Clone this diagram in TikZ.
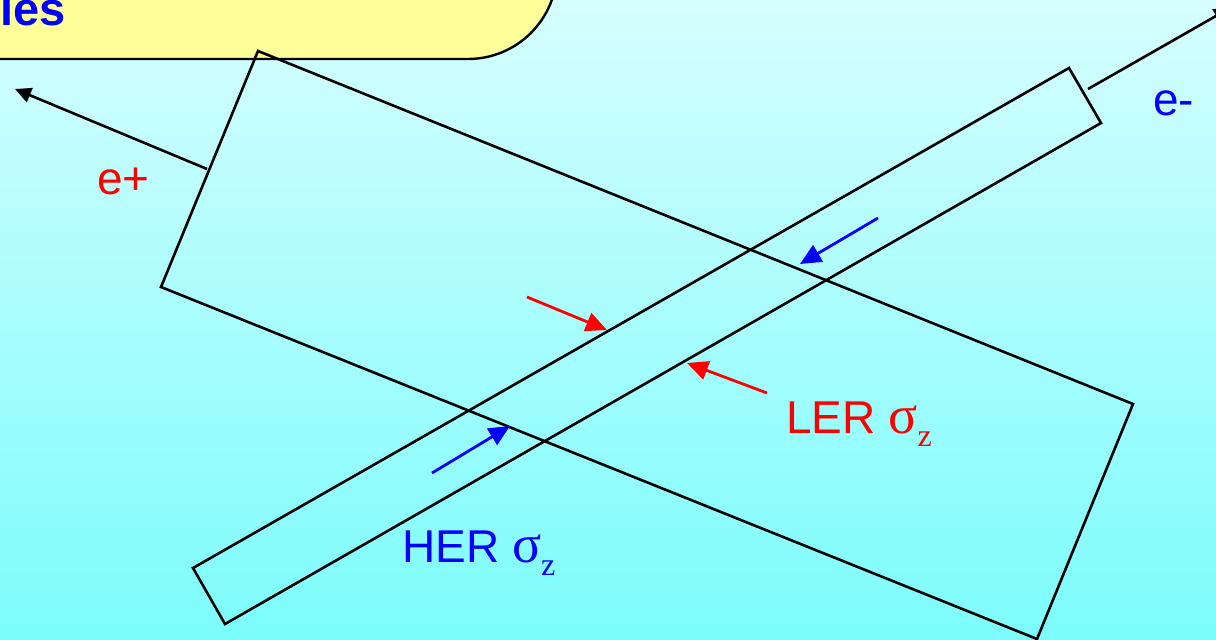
\documentclass[tikz,border=0pt]{standalone}
\usepackage{fontspec}
\setmainfont{Liberation Sans}
\newfontfamily\seriffont{Liberation Serif}
\usetikzlibrary{arrows.meta}
\definecolor{bgtop}{RGB}{214,254,254}
\definecolor{bgbot}{RGB}{124,252,252}
\definecolor{boxyellow}{RGB}{255,255,153}
\tikzset{
  beamline/.style={draw=black, line width=2.6pt, line join=miter},
  dirarrow/.style={draw=black, line width=2.6pt, -{Triangle[length=16pt,width=15pt]}},
  redarrow/.style={draw=red, line width=2.8pt, -{Triangle[length=21pt,width=19pt]}},
  bluearrow/.style={draw=blue, line width=2.8pt, -{Triangle[length=21pt,width=19pt]}},
  lbl/.style={inner sep=0pt, anchor=base west, font=\fontsize{46}{46}\selectfont},
}
\newcommand{\sigz}{{\fontsize{54}{54}\seriffont σ}\raisebox{-13pt}{\fontsize{32}{32}\seriffont z}}
\begin{document}
\begin{tikzpicture}[x=1pt,y=-1pt]
\useasboundingbox (0,0) rectangle (1216,640);
\clip (0,0) rectangle (1216,640);
\fill[top color=bgtop, bottom color=bgbot] (0,0) rectangle (1216,640);
% title box
\draw[fill=boxyellow, line width=2.4pt, rounded corners=89pt] (-150,-200) rectangle (557,59);
\node[inner sep=0pt, anchor=base east, text=blue, font=\fontsize{47}{47}\selectfont\bfseries] (title) at (66,25) {les};
% LER box (wide)
\coordinate (L1) at (258,51);
\coordinate (L2) at (1133,404);
\coordinate (L3) at (1037,639);
\coordinate (L4) at (161,287);
\draw[beamline] (L1) -- (L2) -- (L3) -- (L4) -- cycle;
% HER box (thin)
\coordinate (H1) at (193,568);
\coordinate (H2) at (1069,68);
\coordinate (H3) at (1101,123);
\coordinate (H4) at (225,624);
\draw[beamline] (H1) -- (H2) -- (H3) -- (H4) -- cycle;
% direction arrows
\coordinate (epstart) at (207,169);
\coordinate (eptip) at (15,89);
\draw[dirarrow] (epstart) -- (eptip);
\coordinate (emstart) at (1088,89);
\coordinate (emtip) at (1230,8);
\draw[dirarrow] (emstart) -- (emtip);
% red arrows
\coordinate (ra1s) at (527,297);
\coordinate (ra1e) at (607,330);
\coordinate (ra2s) at (767,393);
\coordinate (ra2e) at (687,363);
\draw[redarrow] (ra1s) -- (ra1e);
\draw[redarrow] (ra2s) -- (ra2e);
% blue arrows
\coordinate (ba1s) at (878,218);
\coordinate (ba1e) at (800,264);
\coordinate (ba2s) at (432,473);
\coordinate (ba2e) at (510,426);
\draw[bluearrow] (ba1s) -- (ba1e);
\draw[bluearrow] (ba2s) -- (ba2e);
% labels
\node[lbl, text=red] (eplus) at (97,194) {e+};
\node[lbl, text=blue] (eminus) at (1153,115) {e-};
\node[lbl, text=red] (ler) at (786,433) {LER \sigz};
\node[lbl, text=blue] (her) at (402,562) {HER \sigz};
\end{tikzpicture}
\end{document}
